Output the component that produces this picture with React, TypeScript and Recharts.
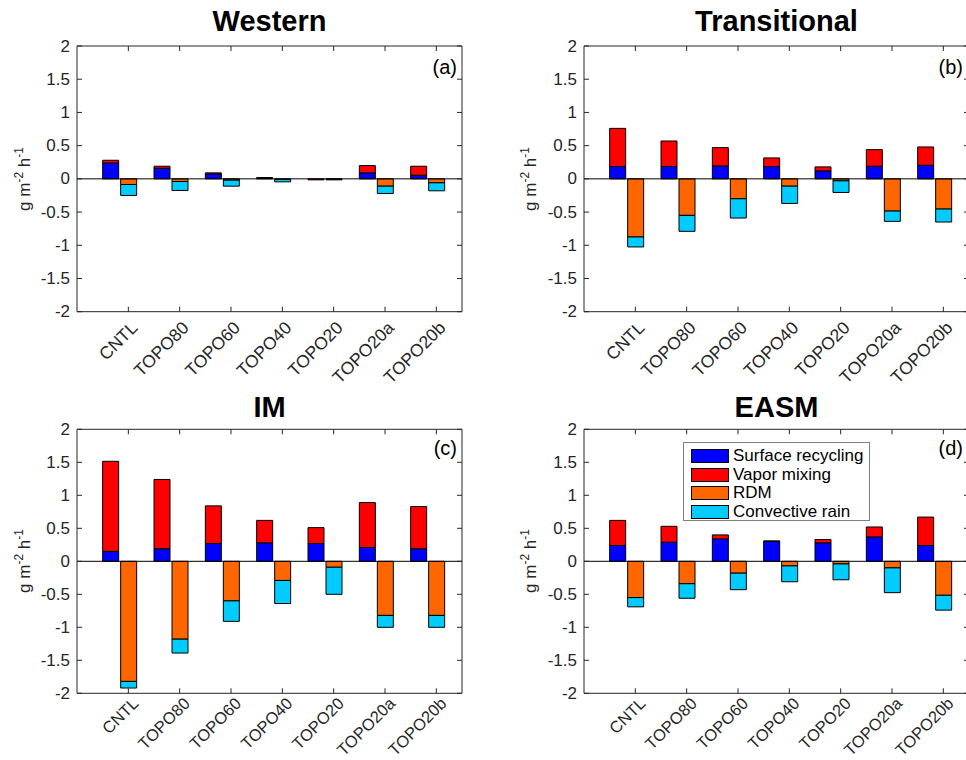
import { BarChart, Bar, XAxis, YAxis, ReferenceLine, Legend } from 'recharts';

const categories = ['CNTL', 'TOPO80', 'TOPO60', 'TOPO40', 'TOPO20', 'TOPO20a', 'TOPO20b'];
const yTicks = [-2, -1.5, -1, -0.5, 0, 0.5, 1, 1.5, 2];

const seriesNames = ['Surface recycling', 'Vapor mixing', 'RDM', 'Convective rain'];
const seriesKeys = ['sr', 'vm', 'rdm', 'cr'];
const seriesColors = ['#0000ff', '#ff0000', '#ff6600', '#00ccff'];

// (a) Western
const westSurface = [0.24, 0.16, 0.075, 0.005, 0.0, 0.09, 0.055];
const westVapor = [0.04, 0.03, 0.015, 0.015, -0.015, 0.11, 0.135];
const westRdm = [-0.085, -0.04, -0.02, -0.01, -0.005, -0.11, -0.06];
const westConv = [-0.165, -0.135, -0.09, -0.035, -0.01, -0.11, -0.12];

// (b) Transitional
const transSurface = [0.185, 0.185, 0.195, 0.185, 0.12, 0.19, 0.205];
const transVapor = [0.575, 0.385, 0.275, 0.13, 0.06, 0.25, 0.275];
const transRdm = [-0.875, -0.55, -0.3, -0.11, -0.03, -0.485, -0.455];
const transConv = [-0.15, -0.24, -0.29, -0.26, -0.175, -0.155, -0.195];

// (c) IM
const imSurface = [0.15, 0.19, 0.27, 0.28, 0.27, 0.21, 0.19];
const imVapor = [1.365, 1.05, 0.57, 0.34, 0.24, 0.68, 0.64];
const imRdm = [-1.82, -1.18, -0.6, -0.29, -0.09, -0.82, -0.82];
const imConv = [-0.1, -0.21, -0.31, -0.35, -0.41, -0.18, -0.18];

// (d) EASM
const easmSurface = [0.24, 0.29, 0.34, 0.3, 0.28, 0.37, 0.24];
const easmVapor = [0.38, 0.24, 0.06, 0.01, 0.05, 0.15, 0.43];
const easmRdm = [-0.55, -0.34, -0.18, -0.07, -0.04, -0.1, -0.515];
const easmConv = [-0.14, -0.22, -0.25, -0.24, -0.24, -0.375, -0.225];

const FONT = '"Liberation Sans", Arial, Helvetica, sans-serif';
const AX = '#262626';
const SHIFT = 9; // tick sits under the negative bar

function LegendBox({ payload }: any) {
  const items = [...(payload || [])].sort(
    (a: any, b: any) => seriesKeys.indexOf(a.dataKey) - seriesKeys.indexOf(b.dataKey)
  );
  return (
    <div style={{ width: 187, height: 79, boxSizing: 'border-box', border: '1px solid #808080', background: '#fff', padding: '4px 0 0 7px', fontFamily: FONT, fontSize: 17, color: '#000' }}>
      {items.map((e: any) => (
        <div key={e.dataKey} style={{ display: 'flex', alignItems: 'center', height: 18.6 }}>
          <span style={{ width: 38, height: 14, boxSizing: 'border-box', background: e.color, border: '1px solid #000', marginRight: 4, flexShrink: 0 }} />
          <span style={{ lineHeight: '18px', whiteSpace: 'nowrap' }}>{e.value}</span>
        </div>
      ))}
    </div>
  );
}

function Panel({ vals, x0, y0, w, h, cw, m, legend, lab }: any) {
  // plot area bounds; each axis takes 1px of the margin
  const plotW = cw - m.left - m.right;
  const plotH = h - m.top - m.bottom;
  const band = plotW / 7.5;
  const padL = band / 2 - SHIFT;
  const padR = plotW - 7 * band - padL;
  const data = categories.map((c, i) => ({
    name: c, sr: vals[0][i], vm: vals[1][i], rdm: vals[2][i], cr: vals[3][i],
  }));

  const XTick = (p: any) => {
    const tx = p.x + SHIFT;
    const ay = p.y;
    const lx = tx + lab.dx;
    const ly = ay + lab.dy;
    return (
      <g>
        <line x1={tx} x2={tx} y1={ay} y2={ay - 5} stroke={AX} />
        <line x1={tx} x2={tx} y1={ay - plotH} y2={ay - plotH + 5} stroke={AX} />
        <text x={lx} y={ly} transform={`rotate(-45 ${lx} ${ly})`} textAnchor="end" dominantBaseline="central" fontSize={lab.size} fontFamily={FONT} fill={AX}>
          {p.payload.value}
        </text>
      </g>
    );
  };

  const YTick = (p: any) => {
    const ax = p.x;
    const ty = p.y;
    return (
      <g>
        <line x1={ax} x2={ax + 5} y1={ty} y2={ty} stroke={AX} />
        <line x1={ax + plotW - 5} x2={ax + plotW} y1={ty} y2={ty} stroke={AX} />
        <text x={ax - 7} y={ty} textAnchor="end" dominantBaseline="central" fontSize={17} fontFamily={FONT} fill={AX}>
          {p.payload.value}
        </text>
      </g>
    );
  };

  const margin = { top: m.top - 1, bottom: m.bottom - 1, left: m.left - 1, right: m.right - 1 };

  return (
    <div style={{ position: 'absolute', left: x0, top: y0, width: w, height: h, overflow: 'hidden' }}>
      <BarChart width={cw} height={h} data={data} margin={margin} barSize={16} barGap={2}>
        <XAxis dataKey="name" interval={0} padding={{ left: padL, right: padR }} height={1} tickSize={0} tickMargin={0} tick={XTick} axisLine={{ stroke: AX }} tickLine={false} />
        <XAxis xAxisId="top" dataKey="name" orientation="top" height={1} tick={false} tickLine={false} axisLine={{ stroke: AX }} />
        <YAxis type="number" domain={[-2, 2]} ticks={yTicks} interval={0} width={1} tickSize={0} tickMargin={0} tick={YTick} axisLine={{ stroke: AX }} tickLine={false} />
        <YAxis yAxisId="right" orientation="right" type="number" domain={[-2, 2]} width={1} tick={false} tickLine={false} axisLine={{ stroke: AX }} />
        <ReferenceLine y={0} stroke="#000" />
        {seriesKeys.map((k, i) => (
          <Bar key={k} dataKey={k} name={seriesNames[i]} stackId={i < 2 ? 'pos' : 'neg'} fill={seriesColors[i]} stroke="#000" strokeWidth={1} isAnimationActive={false} />
        ))}
        {legend && (
          <Legend layout="vertical" align="center" verticalAlign="middle" content={LegendBox}
            wrapperStyle={{ position: 'absolute', left: legend.left, top: legend.top, width: 187, height: 79 }} />
        )}
      </BarChart>
    </div>
  );
}

function YLabel({ x, y }: any) {
  return (
    <text transform={`translate(${x},${y}) rotate(-90)`} textAnchor="middle" fontSize={17} fontFamily={FONT} fill={AX}>
      g m<tspan fontSize={12} dy={-7}>-2</tspan><tspan dy={7}> h</tspan><tspan fontSize={12} dy={-7}>-1</tspan>
    </text>
  );
}

export default function App() {
  const topM = { top: 46, bottom: 88.3 };
  const botM = { top: 49.3, bottom: 66.7 };
  const topLab = { dx: 6, dy: 13, size: 17.5 };
  const botLab = { dx: 7, dy: 7, size: 16.5 };
  return (
    <div style={{ position: 'absolute', left: 0, top: 0, width: 966, height: 760, background: '#fff', fontFamily: FONT, overflow: 'hidden' }}>
      <Panel vals={[westSurface, westVapor, westRdm, westConv]} x0={0} y0={0} w={480} h={400} cw={480} m={{ ...topM, left: 77, right: 18 }} lab={topLab} />
      <Panel vals={[transSurface, transVapor, transRdm, transConv]} x0={480} y0={0} w={486} h={400} cw={500} m={{ ...topM, left: 104, right: 11 }} lab={topLab} />
      <Panel vals={[imSurface, imVapor, imRdm, imConv]} x0={0} y0={380} w={480} h={380} cw={480} m={{ ...botM, left: 77, right: 18 }} lab={botLab} />
      <Panel vals={[easmSurface, easmVapor, easmRdm, easmConv]} x0={480} y0={380} w={486} h={380} cw={500} m={{ ...botM, left: 104, right: 11 }} lab={botLab} legend={{ left: 203, top: 62 }} />
      <svg width={966} height={760} style={{ position: 'absolute', left: 0, top: 0, pointerEvents: 'none' }}>
        <g fontFamily={FONT} fontWeight="bold" fontSize={29} fill="#000" textAnchor="middle">
          <text x={269.5} y={31}>Western</text>
          <text x={776.5} y={31}>Transitional</text>
          <text x={269.5} y={417}>IM</text>
          <text x={776.5} y={417}>EASM</text>
        </g>
        <g fontFamily={FONT} fontSize={20} fill="#000" textAnchor="end">
          <text x={457} y={74}>(a)</text>
          <text x={963} y={74}>(b)</text>
          <text x={457} y={455}>(c)</text>
          <text x={963} y={455}>(d)</text>
        </g>
        <YLabel x={30} y={179} />
        <YLabel x={535.5} y={179} />
        <YLabel x={30} y={561} />
        <YLabel x={535.5} y={561} />
      </svg>
    </div>
  );
}
